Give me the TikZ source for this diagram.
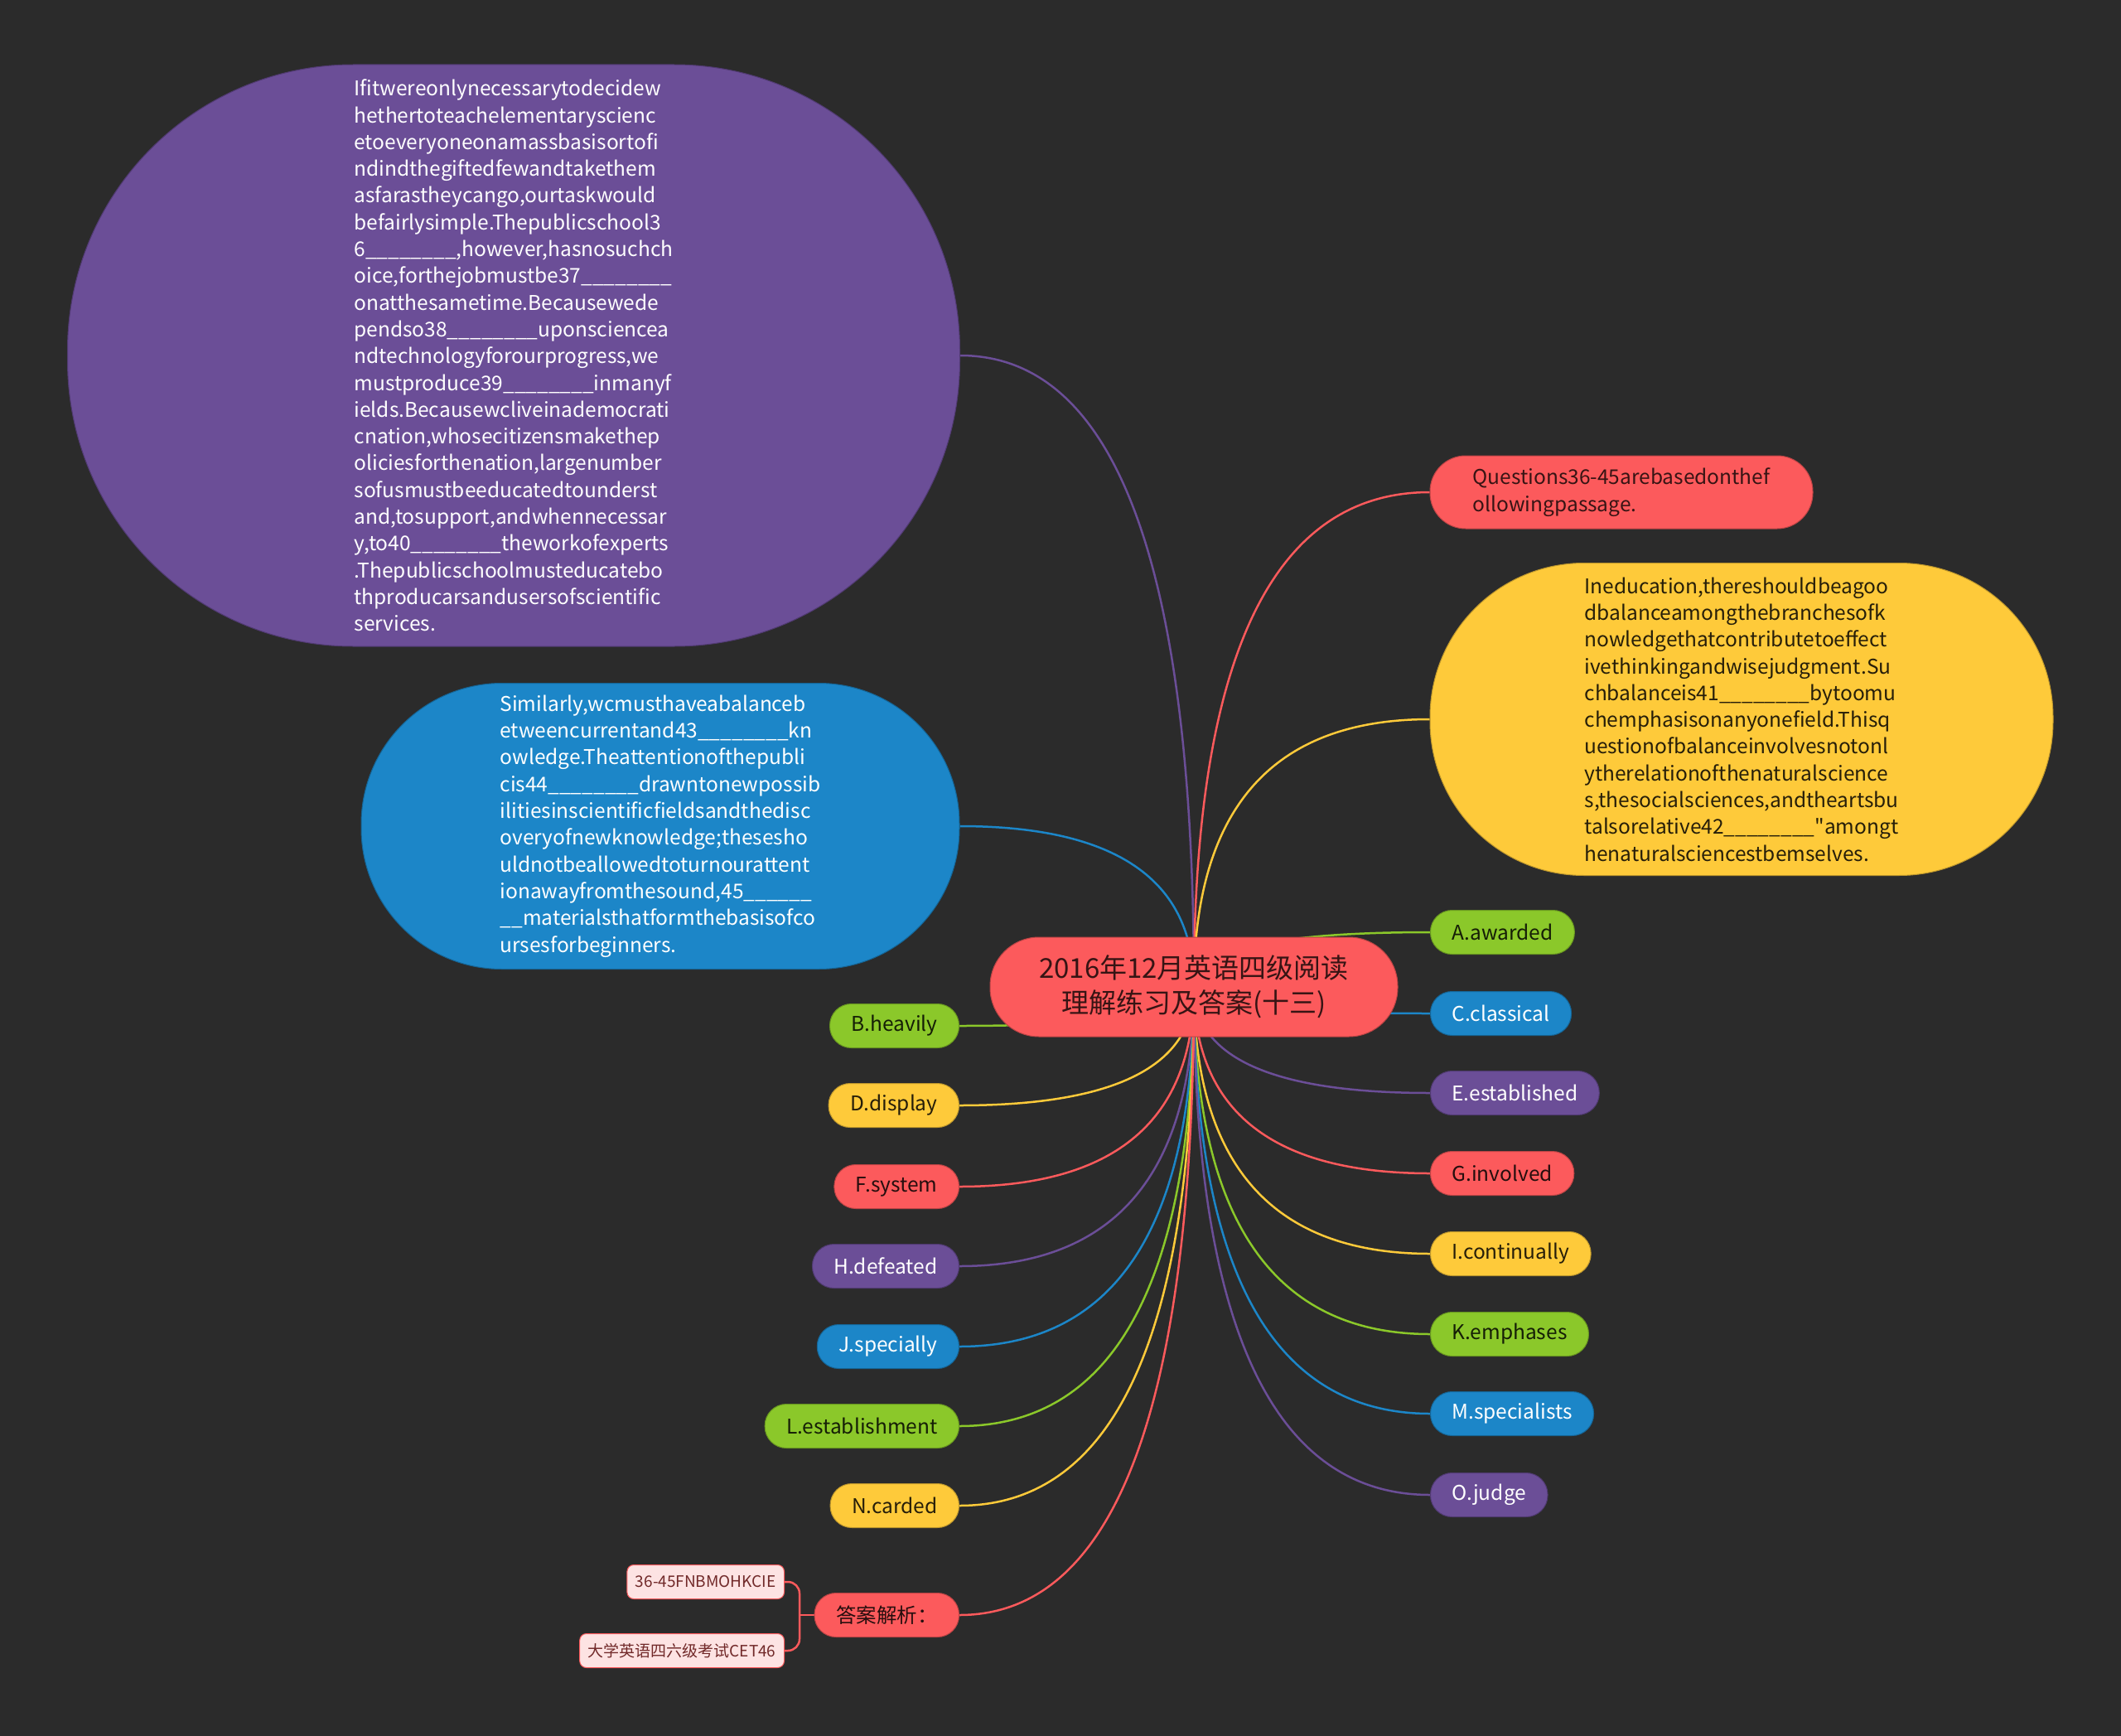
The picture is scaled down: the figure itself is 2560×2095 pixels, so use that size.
\documentclass[tikz,border=0pt]{standalone}
\usepackage{fontspec}
\setmainfont{Noto Sans CJK SC}[Ligatures=TeXOff]
\usetikzlibrary{backgrounds,calc}

\definecolor{bgc}{HTML}{2B2B2B}
\definecolor{cred}{HTML}{FC5A5C}
\definecolor{cyel}{HTML}{FECA3A}
\definecolor{cgrn}{HTML}{8BC82A}
\definecolor{cblu}{HTML}{1C86C8}
\definecolor{cpur}{HTML}{6B4E97}
\definecolor{cpink}{HTML}{FDE3E3}

\newcommand{\bodyfont}{\fontsize{24.5}{32.3}\selectfont}

\tikzset{
  pill/.style={rectangle, rounded corners=26pt, minimum height=53pt,
    inner xsep=26pt, inner ysep=0pt, font=\bodyfont,
    fill=#1, draw=#1!75!black, line width=1pt},
  darkpill/.style={pill=#1, text=#1!15!black},
  lightpill/.style={pill=#1, text=white},
  bigbox/.style={rectangle, align=left, font=\bodyfont, inner sep=0pt,
    fill=#1, draw=#1!75!black, line width=1pt},
  link/.style={draw=#1, line width=2.5pt},
  ansbox/.style={rectangle, rounded corners=8pt, minimum height=41pt,
    inner xsep=10pt, inner ysep=0pt, fill=cpink, draw=cred, line width=1pt,
    text=cred!45!black, font=\fontsize{19}{22}\selectfont}
}

% quadratic branch from a child anchor into the centre
\newcommand{\branch}[2]{%
  \path[link=#1] (#2) .. controls ($(#2)!2/3!(root |- #2)$)
    and ($(root.center)!2/3!(root |- #2)$) .. (root.center);}

\begin{document}
\begin{tikzpicture}[x=1pt,y=-1pt]
  \useasboundingbox (0,0) rectangle (2560,2095);

  % centre
  \node[rectangle, rounded corners=59pt, minimum width=492pt, minimum height=120pt,
    fill=cred, draw=cred!75!black, line width=1pt, align=center,
    text=cred!22!black, font=\fontsize{33}{42}\selectfont] (root) at (1441,1191)
    {2016年12月英语四级阅读\\理解练习及答案(十三)};

  % long passages
  \node[bigbox=cpur, text=white, minimum width=1077pt, minimum height=702pt,
    rounded corners=345pt] (p1) at (620,429)
    {Ifitwereonlynecessarytodecidew\\
     hethertoteachelementaryscienc\\
     etoeveryoneonamassbasisortofi\\
     ndindthegiftedfewandtakethem\\
     asfarastheycango,ourtaskwould\\
     befairlysimple.Thepublicschool3\\
     6\_\_\_\_\_\_\_\_,however,hasnosuchch\\
     oice,forthejobmustbe37\_\_\_\_\_\_\_\_\\
     onatthesametime.Becausewede\\
     pendso38\_\_\_\_\_\_\_\_uponsciencea\\
     ndtechnologyforourprogress,we\\
     mustproduce39\_\_\_\_\_\_\_\_inmanyf\\
     ields.Becausewcliveinademocrati\\
     cnation,whosecitizensmakethep\\
     oliciesforthenation,largenumber\\
     sofusmustbeeducatedtounderst\\
     and,tosupport,andwhennecessar\\
     y,to40\_\_\_\_\_\_\_\_theworkofexperts\\
     .Thepublicschoolmusteducatebo\\
     thproducarsandusersofscientific\\
     services.};

  \node[bigbox=cblu, text=white, minimum width=722pt, minimum height=345pt,
    rounded corners=170pt] (p2) at (797,997)
    {Similarly,wcmusthaveabalanceb\\
     etweencurrentand43\_\_\_\_\_\_\_\_kn\\
     owledge.Theattentionofthepubli\\
     cis44\_\_\_\_\_\_\_\_drawntonewpossib\\
     ilitiesinscientificfieldsandthedisc\\
     overyofnewknowledge;thesesho\\
     uldnotbeallowedtoturnourattent\\
     ionawayfromthesound,45\_\_\_\_\_\_\\
     \_\_materialsthatformthebasisofco\\
     ursesforbeginners.};

  \node[bigbox=cyel, text=cyel!15!black, minimum width=752pt, minimum height=377pt,
    rounded corners=186pt] (p3) at (2102,868)
    {Ineducation,thereshouldbeagoo\\
     dbalanceamongthebranchesofk\\
     nowledgethatcontributetoeffect\\
     ivethinkingandwisejudgment.Su\\
     chbalanceis41\_\_\_\_\_\_\_\_bytoomu\\
     chemphasisonanyonefield.Thisq\\
     uestionofbalanceinvolvesnotonl\\
     ytherelationofthenaturalscience\\
     s,thesocialsciences,andtheartsbu\\
     talsorelative42\_\_\_\_\_\_\_\_"amongt\\
     henaturalsciencestbemselves.};

  \node[bigbox=cred, text=cred!22!black, minimum width=462pt, minimum height=88pt,
    rounded corners=43pt] (q) at (1957,594)
    {Questions36-45arebasedonthef\\ollowingpassage.};

  % options, right
  \node[darkpill=cgrn, anchor=west] (A) at (1726,1125) {A.awarded};
  \node[lightpill=cblu, anchor=west] (C) at (1726,1223) {C.classical};
  \node[lightpill=cpur, anchor=west] (E) at (1726,1319) {E.established};
  \node[darkpill=cred, anchor=west] (G) at (1726,1416) {G.involved};
  \node[darkpill=cyel, anchor=west] (I) at (1726,1513) {I.continually};
  \node[darkpill=cgrn, anchor=west] (K) at (1726,1610) {K.emphases};
  \node[lightpill=cblu, anchor=west] (M) at (1726,1706) {M.specialists};
  \node[lightpill=cpur, anchor=west] (O) at (1726,1804) {O.judge};

  % options, left
  \node[darkpill=cgrn, anchor=east] (B) at (1158,1238) {B.heavily};
  \node[darkpill=cyel, anchor=east] (D) at (1158,1334) {D.display};
  \node[darkpill=cred, anchor=east] (F) at (1158,1432) {F.system};
  \node[lightpill=cpur, anchor=east] (H) at (1158,1528) {H.defeated};
  \node[lightpill=cblu, anchor=east] (J) at (1158,1625) {J.specially};
  \node[darkpill=cgrn, anchor=east] (L) at (1158,1721) {L.establishment};
  \node[darkpill=cyel, anchor=east] (N) at (1158,1817) {N.carded};
  \node[darkpill=cred, anchor=east] (ans) at (1158,1949) {答案解析：};

  % answer notes
  \node[ansbox, anchor=east] (ans1) at (947,1909) {36-45FNBMOHKCIE};
  \node[ansbox, anchor=east] (ans2) at (947,1992) {大学英语四六级考试CET46};
  \coordinate (fork) at (965,1949);

  \begin{scope}[on background layer]
    \fill[bgc] (0,0) rectangle (2560,2095);

    \branch{cpur}{p1.east}
    \branch{cred}{q.west}
    \branch{cyel}{p3.west}
    \branch{cblu}{p2.east}

    \branch{cgrn}{A.west}
    \branch{cblu}{C.west}
    \branch{cpur}{E.west}
    \branch{cred}{G.west}
    \branch{cyel}{I.west}
    \branch{cgrn}{K.west}
    \branch{cblu}{M.west}
    \branch{cpur}{O.west}

    \branch{cgrn}{B.east}
    \branch{cyel}{D.east}
    \branch{cred}{F.east}
    \branch{cpur}{H.east}
    \branch{cblu}{J.east}
    \branch{cgrn}{L.east}
    \branch{cyel}{N.east}
    \branch{cred}{ans.east}

    \path[link=cred] (ans.west) -- (fork);
    \path[link=cred, rounded corners=14pt] (fork) |- (ans1.east);
    \path[link=cred, rounded corners=14pt] (fork) |- (ans2.east);
  \end{scope}

\end{tikzpicture}
\end{document}
